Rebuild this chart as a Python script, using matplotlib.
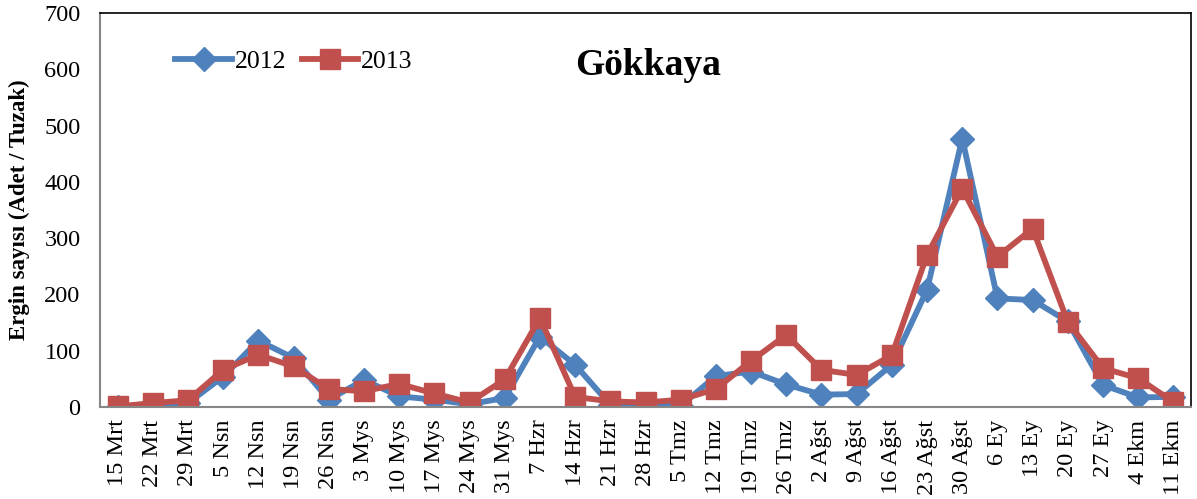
import matplotlib
matplotlib.use('Agg')
from matplotlib import pyplot as plt

dates = ['15 Mrt', '22 Mrt', '29 Mrt', '5 Nsn', '12 Nsn', '19 Nsn', '26 Nsn',
         '3 Mys', '10 Mys', '17 Mys', '24 Mys', '31 Mys', '7 Hzr', '14 Hzr',
         '21 Hzr', '28 Hzr', '5 Tmz', '12 Tmz', '19 Tmz', '26 Tmz', '2 Ağst',
         '9 Ağst', '16 Ağst', '23 Ağst', '30 Ağst', '6 Ey', '13 Ey', '20 Ey',
         '27 Ey', '4 Ekm', '11 Ekm']
y2012 = [0, 3, 7, 54, 118, 87, 13, 48, 19, 13, 5, 16, 125, 75, 4, 4, 2, 55,
         63, 40, 22, 23, 75, 208, 477, 193, 190, 152, 39, 17, 18]
y2013 = [1, 7, 12, 66, 93, 72, 32, 28, 41, 24, 8, 49, 158, 18, 10, 8, 13, 32,
         82, 128, 66, 57, 92, 270, 388, 267, 317, 151, 69, 51, 9]

plt.rcParams['font.family'] = ['Liberation Serif', 'DejaVu Serif']

fig = plt.figure(figsize=(11.97, 4.99), dpi=100)
ax = fig.add_axes([100 / 1197, 92 / 499, 1091 / 1197, 394 / 499])

x = list(range(len(dates)))
ax.plot(x, y2012, color='#4F81BD', lw=4.2, marker='D', ms=12.5, label='2012')
ax.plot(x, y2013, color='#C0504D', lw=4.2, marker='s', ms=14, label='2013')

ax.set_xlim(-0.5, len(dates) - 0.5)
ax.set_ylim(0, 700)
ax.set_yticks(range(0, 701, 100))
ax.set_xticks(x)
ax.set_xticklabels(dates, rotation=90)
ax.tick_params(axis='y', length=0, labelsize=17.5, pad=14)
ax.tick_params(axis='x', length=0, labelsize=17.5, pad=9)

for s in ['left', 'bottom']:
    ax.spines[s].set_color('#868686')
    ax.spines[s].set_linewidth(1.5)
for s in ['top', 'right']:
    ax.spines[s].set_color('black')
    ax.spines[s].set_linewidth(1.2)

ax.set_ylabel('Ergin sayısı (Adet / Tuzak)', fontsize=16.5, fontweight='bold', labelpad=10)
ax.text(0.502, 0.866, 'Gökkaya', transform=ax.transAxes, ha='center', va='center',
        fontsize=27, fontweight='bold')
ax.legend(loc='upper left', bbox_to_anchor=(0.048, 0.965), ncol=2, frameon=False,
          fontsize=18.5, handlelength=2.2, handletextpad=0.1, columnspacing=0.6)

fig.savefig('out.png', dpi=100)
